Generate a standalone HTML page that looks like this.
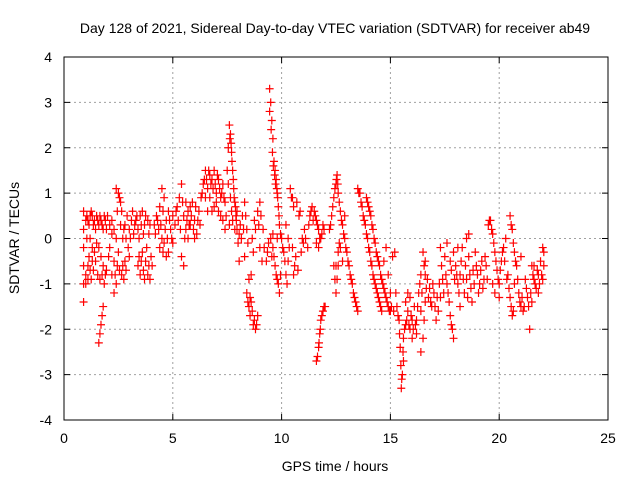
<!DOCTYPE html>
<html><head><meta charset="utf-8"><style>
html,body{margin:0;padding:0;background:#fff;}
svg{display:block;font-family:"Liberation Sans",sans-serif;}
</style></head><body>
<svg id="chart" width="640" height="480" viewBox="0 0 640 480">
<text x="335" y="33" font-size="14" text-anchor="middle">Day 128 of 2021, Sidereal Day-to-day VTEC variation (SDTVAR) for receiver ab49</text>
<text x="335" y="471" font-size="14" text-anchor="middle">GPS time / hours</text>
<text x="19" y="238" font-size="14" text-anchor="middle" transform="rotate(-90 19 238)">SDTVAR / TECUs</text>
<g id="grid"></g>
<g id="marks"></g>
<rect x="64" y="57" width="544" height="363" fill="none" stroke="#000" stroke-width="1"/>
<g id="ticks"></g>
</svg>
<script>
const xTicks=[0,5,10,15,20,25];
const yTicks=[-4,-3,-2,-1,0,1,2,3,4];
const points=[
[0.9,-1.4],[0.9,-1.0],[0.9,-0.6],[0.9,-0.2],[0.9,0.2],[0.9,0.6],[1.0,0.4],[1.0,-0.8],[1.05,0.0],
[1.1,0.4],[1.2,0.5],[1.3,0.5],[1.4,0.4],[1.5,0.5],[1.6,0.3],[1.7,0.4],[1.8,0.2],[1.9,0.4],[2.0,0.5],
[1.1,-0.9],[1.2,-0.7],[1.3,-0.5],[1.4,-0.3],[1.5,-0.1],[1.6,-0.2],[1.7,-0.4],[1.8,-0.6],[1.9,-0.8],[1.2,0.0],[1.3,-0.2],
[1.6,-2.3],[1.65,-2.1],[1.7,-1.9],[1.75,-1.7],[1.8,-1.5],
[2.1,-0.2],[2.2,0.1],[2.3,-0.5],[2.3,-1.2],[2.4,-1.0],[2.4,1.1],[2.5,1.0],[2.6,0.8],[2.6,0.3],[2.7,0.0],[2.7,-0.6],[2.8,-0.5],[2.8,0.3],[2.9,0.5],[3.0,0.2],[3.0,-0.4],[2.5,-0.3],[2.2,-0.8],
[3.1,0.4],[3.2,0.1],[3.3,0.4],[3.4,0.2],[3.4,-0.6],[3.5,-0.8],[3.5,0.5],[3.6,-0.3],[3.7,0.3],[3.7,-0.9],[3.8,-0.2],[3.9,0.1],[3.9,-0.6],[4.0,-0.4],[3.6,0.6],
[4.2,0.1],[4.3,0.4],[4.4,0.7],[4.5,1.1],[4.6,0.9],[4.6,-0.1],[4.7,0.4],[4.8,0.6],[4.8,-0.3],[4.9,0.2],[5.0,0.5],[5.0,-0.1],[4.5,0.0],
[5.1,0.3],[5.2,0.7],[5.3,0.9],[5.4,1.2],[5.4,-0.4],[5.5,-0.6],[5.5,0.5],[5.6,0.2],[5.7,0.6],[5.8,0.3],[5.9,0.8],[6.0,0.4],[6.1,0.1],[6.2,0.6],[5.7,0.0],
[6.3,0.9],[6.4,1.2],[6.5,1.5],[6.6,1.1],[6.7,1.4],[6.8,1.3],[6.9,1.5],[7.0,1.0],[7.1,1.3],[7.2,0.9],[7.3,1.2],[6.6,0.6],[6.9,0.7],[7.2,0.5],[7.4,0.8],[7.4,0.2],
[7.5,1.5],[7.55,2.0],[7.6,2.5],[7.65,2.3],[7.7,1.9],[7.75,1.5],[7.8,1.1],[7.85,0.8],[7.9,0.5],[7.95,0.2],[8.0,-0.1],[7.6,0.3],[7.7,0.6],[8.05,-0.5],[8.1,0.3],
[8.2,0.5],[8.3,0.8],[8.4,0.2],[8.4,-1.2],[8.5,-1.5],[8.55,-1.7],[8.6,-0.8],[8.7,-0.3],[8.8,0.2],[8.9,0.6],[9.0,0.8],[8.7,-1.9],[8.8,-2.0],[8.9,-1.7],[8.6,-1.4],[9.0,-0.2],[9.1,-0.5],[8.3,-0.4],
[9.45,3.3],[9.5,3.0],[9.55,2.6],[9.6,2.2],[9.65,1.7],[9.7,1.5],[9.75,1.3],[9.8,1.0],[9.85,0.7],[9.9,0.3],[9.5,0.0],[9.6,-0.2],[9.7,-0.6],[9.8,-0.9],[9.9,-1.2],[9.3,-0.5],[9.4,-0.1],
[10.0,0.0],[10.1,-0.3],[10.2,-0.8],[10.3,-0.5],[10.4,1.1],[10.5,0.9],[10.5,-0.2],[10.6,-0.6],[10.7,0.8],[10.8,0.5],[10.9,-0.3],[11.0,-0.1],[11.1,0.0],[10.2,0.3],
[11.2,-0.2],[11.3,0.5],[11.4,0.7],[11.5,0.6],[11.6,0.4],[11.7,0.2],[11.8,0.0],[11.9,0.3],[11.6,-2.7],[11.7,-2.4],[11.75,-2.1],[11.8,-1.8],[11.9,-1.6],[12.0,-1.5],[11.6,-0.1],
[12.2,0.2],[12.3,0.5],[12.4,0.9],[12.5,1.2],[12.55,1.4],[12.6,1.0],[12.7,0.6],[12.8,0.3],[12.9,0.0],[13.0,-0.3],[13.1,-0.6],[13.2,-0.9],[13.3,-1.2],[13.4,-1.4],[13.5,-1.6],[12.4,-0.6],[12.5,-1.2],[12.45,-0.9],[12.6,-0.3],[12.7,-0.2],[12.9,0.5],[12.8,-0.5],
[13.5,1.1],[13.6,1.0],[13.7,0.7],[13.8,0.4],[13.9,0.1],[14.0,-0.2],[14.1,-0.5],[14.2,-0.8],[14.3,-1.0],[14.4,-1.2],[14.5,-1.4],[14.6,-1.6],
[13.9,0.9],[14.0,0.7],[14.1,0.5],[14.2,0.2],[14.3,-0.1],[14.4,-0.4],[14.5,-0.6],[14.6,-0.9],[14.7,-1.1],[14.8,-1.3],[14.9,-1.5],[15.0,-1.6],
[14.7,-0.5],[14.8,-0.2],[14.9,-0.8],[15.0,-1.2],[15.1,-0.4],[15.2,-0.3],
[15.3,-1.5],[15.4,-1.8],[15.45,-2.4],[15.5,-3.3],[15.55,-3.0],[15.6,-2.7],[15.6,-2.2],[15.7,-1.9],[15.8,-1.6],[15.9,-2.0],[16.0,-1.8],[16.1,-1.5],[15.8,-1.2],[16.0,-2.2],[16.2,-1.8],[16.3,-1.2],[16.4,-0.8],[16.4,-1.6],[16.5,-2.2],[16.4,-2.5],[16.6,-1.4],[16.7,-0.9],[16.8,-1.1],[16.9,-1.5],[17.0,-1.2],[16.6,-0.5],[16.5,-0.3],[17.1,-1.8],[17.2,-1.6],[17.3,-1.3],[17.4,-0.9],[17.3,-0.2],[17.5,-0.4],
[17.6,-1.0],[17.7,-1.4],[17.8,-1.9],[17.9,-2.2],[17.8,-0.7],[17.9,-0.3],[18.0,-0.6],[18.1,-1.0],[18.2,-0.8],[18.3,-0.2],[18.4,-1.2],[18.5,-0.9],[18.6,-0.4],[18.7,-1.1],[18.8,-0.7],[18.9,-0.3],[19.0,-0.8],[19.1,-1.0],[19.2,-0.5],[18.5,0.0],[18.2,-1.5],[17.6,-0.1],[19.3,-0.9],[19.4,-0.6],
[19.5,0.3],[19.6,0.4],[19.7,0.1],[19.8,-0.3],[19.9,-0.7],[20.0,-1.0],[19.8,-1.2],[20.1,-0.5],[20.2,-0.2],[20.3,0.0],[20.4,-0.8],[20.5,-1.3],[20.6,-1.7],[20.5,0.5],[20.6,0.2],[20.7,-0.3],[20.8,-0.6],[20.9,-1.2],[21.0,-1.5],[21.1,-1.6],[21.0,-0.4],[21.2,-0.9],[21.3,-1.3],[21.4,-2.0],[21.5,-0.6],[21.6,-0.9],[21.7,-1.1],[21.8,-0.8],[21.9,-0.5],[22.0,-0.2],[22.0,-0.9],[21.5,-1.4],[20.7,-1.0],
[1.05,0.5],[1.15,0.3],[1.25,0.6],[1.35,0.3],[1.45,0.2],[1.55,0.4],[1.65,0.5],[1.75,0.3],[1.85,0.5],[1.95,0.2],[1.0,-1.0],[1.1,-0.6],[1.15,-0.4],[1.25,-0.9],[1.35,-0.7],[1.45,-0.5],[1.55,-0.8],[1.65,-0.9],[1.75,-0.8],[1.85,-1.0],[1.95,-0.7],[2.05,-0.4],
[2.1,0.3],[2.2,0.4],[2.3,0.2],[2.4,0.0],[2.45,0.6],[2.55,0.9],[2.65,0.6],[2.75,0.2],[2.85,0.0],[2.95,-0.2],[2.35,-0.8],[2.45,-0.6],[2.55,-0.7],[2.65,-0.8],[2.75,-0.9],[2.85,-0.7],
[3.05,0.0],[3.15,0.6],[3.25,0.3],[3.35,0.5],[3.45,0.0],[3.55,0.3],[3.65,0.1],[3.75,0.5],[3.85,0.4],[3.95,0.3],[3.45,-0.4],[3.55,-0.5],[3.65,-0.7],[3.75,-0.5],[3.85,-0.8],[3.95,-0.9],[4.05,-0.6],
[4.15,0.3],[4.25,0.5],[4.35,0.2],[4.45,0.3],[4.55,0.6],[4.65,0.2],[4.75,0.0],[4.85,0.4],[4.95,0.0],[4.4,-0.2],[4.55,-0.3],[4.7,-0.4],
[5.15,0.6],[5.25,0.4],[5.35,0.2],[5.45,0.8],[5.55,0.0],[5.65,0.4],[5.75,0.3],[5.85,0.5],[5.95,0.2],[6.05,0.7],[6.15,0.4],[6.25,0.3],[5.6,0.8],[5.8,0.7],[6.0,0.0],
[6.35,1.0],[6.45,1.3],[6.55,1.3],[6.65,1.5],[6.75,1.2],[6.85,1.1],[6.95,1.2],[7.05,1.4],[7.15,1.1],[7.25,1.0],[7.35,0.9],[6.5,0.9],[6.7,0.9],[6.8,0.6],[7.0,0.8],[7.1,0.6],[7.3,0.4],[7.45,0.5],
[7.55,1.2],[7.62,2.2],[7.68,2.1],[7.72,1.7],[7.78,1.3],[7.82,0.9],[7.88,0.7],[7.92,0.4],[7.65,0.9],[7.75,0.4],[7.85,0.2],[7.95,0.6],[8.05,0.1],[8.15,0.0],
[8.25,0.2],[8.35,0.5],[8.45,-0.1],[8.5,-0.9],[8.45,-1.4],[8.55,-1.3],[8.65,-1.6],[8.75,-1.8],[8.85,-1.9],[8.95,0.3],[9.05,0.5],[9.15,0.2],[9.2,-0.2],[8.65,0.0],[8.75,0.4],
[9.35,-0.3],[9.45,2.8],[9.52,2.4],[9.58,1.9],[9.62,1.6],[9.68,1.4],[9.72,1.2],[9.78,1.1],[9.82,0.9],[9.88,0.5],[9.95,0.1],[9.55,-0.4],[9.65,-0.4],[9.75,-0.8],[9.85,-1.0],[9.95,-0.8],[10.05,-0.2],[9.6,0.1],[9.8,0.0],
[10.15,-0.5],[10.25,-1.0],[10.35,-0.2],[10.45,0.9],[10.55,0.7],[10.65,-0.4],[10.75,-0.7],[10.85,0.6],[10.95,0.0],[11.05,0.2],[10.55,-0.8],[10.3,0.0],
[11.25,0.3],[11.35,0.6],[11.45,0.4],[11.55,0.5],[11.65,0.3],[11.75,0.0],[11.85,0.1],[11.95,0.2],[11.65,-2.6],[11.72,-2.3],[11.78,-2.0],[11.85,-1.7],[11.95,-1.5],[11.7,-0.2],
[12.25,0.3],[12.35,0.7],[12.45,1.1],[12.52,1.3],[12.58,1.2],[12.65,0.8],[12.75,0.4],[12.85,0.1],[12.95,-0.2],[13.05,-0.5],[13.15,-0.8],[13.25,-1.0],[13.35,-1.3],[13.45,-1.5],[12.5,-0.6],[12.55,-0.9],[12.6,-0.6],[12.65,-0.1],
[13.55,1.0],[13.65,0.8],[13.75,0.5],[13.85,0.3],[13.95,0.0],[14.05,-0.3],[14.15,-0.6],[14.25,-0.9],[14.35,-1.1],[14.45,-1.3],[14.55,-1.5],[13.95,0.8],[14.05,0.6],[14.15,0.3],[14.25,0.0],[14.35,-0.3],[14.45,-0.5],[14.55,-0.8],[14.65,-1.0],[14.75,-1.2],[14.85,-1.4],[14.95,-1.6],[15.05,-1.5],[15.15,-1.6],
[15.25,-1.2],[15.35,-1.7],[15.42,-2.1],[15.48,-2.8],[15.52,-3.1],[15.58,-2.5],[15.65,-2.0],[15.75,-1.8],[15.85,-1.9],[15.95,-1.7],[16.05,-2.0],[16.15,-1.9],[16.25,-1.5],[16.35,-1.0],[16.45,-1.2],[16.55,-1.8],[16.65,-1.1],[16.75,-1.3],[16.85,-1.4],[16.95,-1.0],[17.05,-1.5],[15.7,-1.4],[15.9,-1.3],[16.2,-2.1],[16.55,-0.6],[16.6,-0.8],
[17.15,-1.3],[17.25,-1.0],[17.35,-0.6],[17.45,-1.2],[17.55,-0.8],[17.65,-1.2],[17.75,-1.7],[17.85,-2.0],[17.75,-0.5],[17.95,-0.9],[18.05,-0.8],[18.15,-1.2],[18.25,-0.5],[18.35,-0.9],[18.45,-0.6],[18.55,-1.3],[18.65,-0.8],[18.75,-1.4],[18.85,-1.0],[18.95,-0.6],[19.05,-1.2],[19.15,-0.7],[19.25,-1.1],[19.35,-0.4],[19.45,-0.9],[18.1,-0.2],[18.6,0.1],
[19.55,0.4],[19.65,0.2],[19.75,-0.1],[19.85,-0.5],[19.95,-0.9],[20.05,-0.7],[20.15,-0.3],[20.25,-0.5],[20.35,-0.9],[20.45,-1.1],[20.55,-1.5],[20.65,-1.6],[20.55,0.3],[20.65,-0.1],[20.75,-0.5],[20.85,-0.9],[20.95,-1.4],[21.05,-1.3],[21.15,-1.5],[21.25,-1.1],[21.35,-1.5],[21.45,-1.2],[21.55,-0.8],[21.65,-1.0],[21.75,-0.7],[21.85,-1.0],[21.95,-0.8],[22.05,-0.3],[22.05,-0.6],[21.6,-0.6],[21.8,-1.2],[19.7,-1.0],[20.0,-1.3]
];
const NS='http://www.w3.org/2000/svg';
const L=64,R=608,T=57,B=420;
const xMin=0,xMax=25,yMin=-4,yMax=4;
function sx(v){return L+(v-xMin)/(xMax-xMin)*(R-L);}
function sy(v){return B-(v-yMin)/(yMax-yMin)*(B-T);}
const grid=document.getElementById('grid'),ticks=document.getElementById('ticks'),marks=document.getElementById('marks');
function mk(tag,attrs,parent){const e=document.createElementNS(NS,tag);for(const k in attrs)e.setAttribute(k,attrs[k]);parent.appendChild(e);return e;}
xTicks.forEach(v=>{
  const x=sx(v);
  if(v>xMin&&v<xMax){const g=mk('line',{x1:x,x2:x,y1:T,y2:B,stroke:'#a0a0a0','stroke-dasharray':'2,3'},grid);
  
  }
  const t1=mk('line',{x1:x,x2:x,y1:B,y2:B-6,stroke:'#000'},ticks);
  
  
  const t2=mk('line',{x1:x,x2:x,y1:T,y2:T+6,stroke:'#000'},ticks);
  
  
  const lb=mk('text',{x:x,y:443,'font-size':14,'text-anchor':'middle'},ticks);lb.textContent=v;
  
  
});
yTicks.forEach(v=>{
  const y=sy(v);
  if(v>yMin&&v<yMax){const g=mk('line',{x1:L,x2:R,y1:y,y2:y,stroke:'#a0a0a0','stroke-dasharray':'2,3'},grid);
  
  }
  const t1=mk('line',{x1:L,x2:L+6,y1:y,y2:y,stroke:'#000'},ticks);
  
  
  const t2=mk('line',{x1:R,x2:R-6,y1:y,y2:y,stroke:'#000'},ticks);
  
  
  const lb=mk('text',{x:52,y:y+5,'font-size':14,'text-anchor':'end'},ticks);lb.textContent=v;
  
  
});
let d='';
points.forEach(p=>{const x=sx(p[0]),y=sy(p[1]);d+='M'+(x-4)+' '+y+'H'+(x+4)+'M'+x+' '+(y-4)+'V'+(y+4);});
const path=mk('path',{d:d,stroke:'#ff0000','stroke-width':1.2,fill:'none'},marks);


</script>
</body></html>
